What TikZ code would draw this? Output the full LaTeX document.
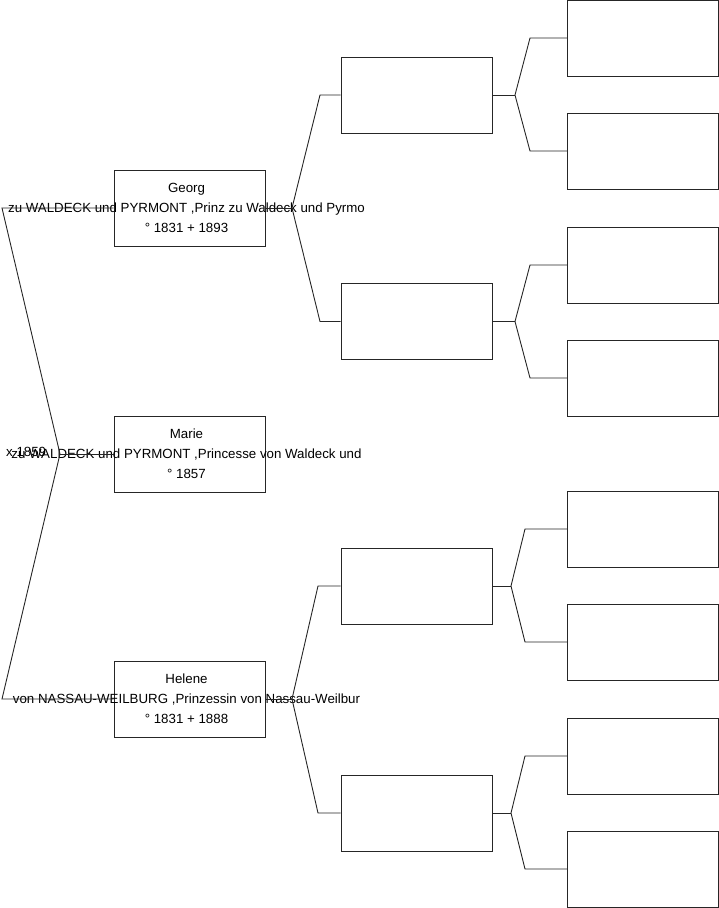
\documentclass[tikz,border=0pt]{standalone}
\usepackage{fontspec}
\setmainfont{Liberation Sans}
\usepackage{tikz}

\tikzset{
  person/.style={draw=black!85,line width=0.9pt,minimum width=151pt,minimum height=76pt,inner sep=0pt},
  pname/.style={align=center,inner sep=0pt,xshift=-3pt,font=\fontsize{13.3}{20}\selectfont},
  branch/.style={draw=black!85,line width=0.9pt}
}

\begin{document}
\begin{tikzpicture}[x=1pt,y=-1pt]
\useasboundingbox (0,0) rectangle (719,908);
% first generation
\node[person] (georg) at (189.5,208) {};
\node[person] (marie) at (189.5,454) {};
\node[person] (helene) at (189.5,699) {};
\node[pname] (georgtxt) at (georg.center) {Georg\\zu WALDECK und PYRMONT ,Prinz zu Waldeck und Pyrmo\\° 1831 + 1893};
\node[pname] (marietxt) at (marie.center) {Marie\\zu WALDECK und PYRMONT ,Princesse von Waldeck und\\° 1857};
\node[pname] (helenetxt) at (helene.center) {Helene\\von NASSAU-WEILBURG ,Prinzessin von Nassau-Weilbur\\° 1831 + 1888};
\node[pname,anchor=west] (wedding) at (9,452) {x 1859};
% grandparents
\node[person] (gp1) at (416.5,95) {};
\node[person] (gp2) at (416.5,321.5) {};
\node[person] (gp3) at (416.5,586) {};
\node[person] (gp4) at (416.5,813) {};
% great-grandparents
\node[person] (ggp1) at (643,38) {};
\node[person] (ggp2) at (643,151) {};
\node[person] (ggp3) at (643,265) {};
\node[person] (ggp4) at (643,378) {};
\node[person] (ggp5) at (643,529) {};
\node[person] (ggp6) at (643,642) {};
\node[person] (ggp7) at (643,756) {};
\node[person] (ggp8) at (643,869) {};

% forks
\coordinate (fm) at (60,454);
\coordinate (fg) at (292,208);
\coordinate (fh) at (292,699);
\coordinate (f1) at (515,95);
\coordinate (f2) at (515,321.5);
\coordinate (f3) at (511,586);
\coordinate (f4) at (511,813);

\draw[branch] (georg.west) -- (2,208) -- (fm) -- (2,699) -- (helene.west);
\draw[branch] (marie.west) -- (fm);

\draw[branch] (georg.east) -- (fg);
\draw[branch] (gp1.west) -- (320,95) -- (fg) -- (320,321.5) -- (gp2.west);
\draw[branch] (helene.east) -- (fh);
\draw[branch] (gp3.west) -- (318,586) -- (fh) -- (318,813) -- (gp4.west);

\draw[branch] (gp1.east) -- (f1);
\draw[branch] (ggp1.west) -- (530,38) -- (f1) -- (530,151) -- (ggp2.west);
\draw[branch] (gp2.east) -- (f2);
\draw[branch] (ggp3.west) -- (530,265) -- (f2) -- (530,378) -- (ggp4.west);
\draw[branch] (gp3.east) -- (f3);
\draw[branch] (ggp5.west) -- (525,529) -- (f3) -- (525,642) -- (ggp6.west);
\draw[branch] (gp4.east) -- (f4);
\draw[branch] (ggp7.west) -- (525,756) -- (f4) -- (525,869) -- (ggp8.west);
\end{tikzpicture}
\end{document}
